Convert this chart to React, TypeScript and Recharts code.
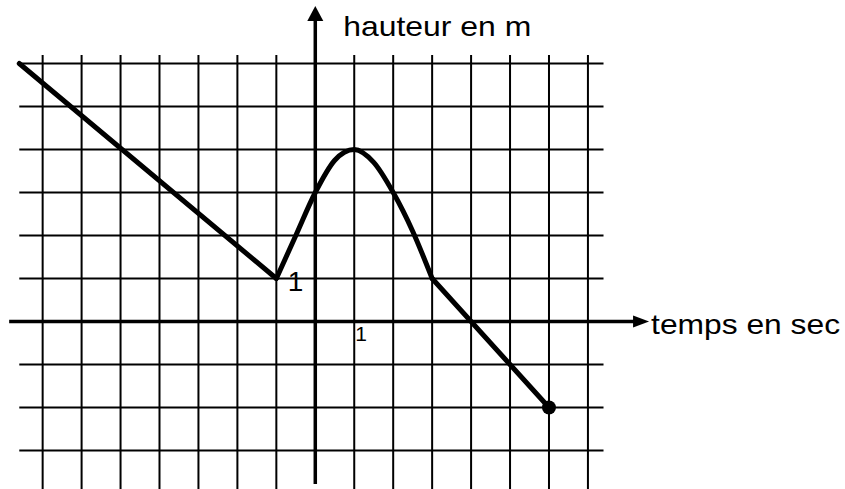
import React from 'react';
import { LineChart, Line, XAxis, YAxis, ReferenceLine, ReferenceDot } from 'recharts';

// grid rules (one per unit) and how far they reach
const GRID_X = [-7, -6, -5, -4, -3, -2, -1, 1, 2, 3, 4, 5, 6, 7];
const GRID_Y = [-3, -2, -1, 1, 2, 3, 4, 5, 6];
const GRID_X_SPAN = [-7.6, 7.4];
const GRID_Y_SPAN = [-3.9, 6.2];

// axes extent (arrow tips at the end)
const AXIS_X_SPAN = [-7.86, 8.57];
const AXIS_Y_SPAN = [-3.78, 7.34];

// the height curve, in three pieces
const LEFT_T = [-7.6, -1];
const LEFT_H = [6, 1];
const CURVE_T = [-1, -0.5, 0, 0.5, 1, 1.5, 2, 2.5, 3];
const CURVE_H = [1, 2, 3, 3.75, 4, 3.7, 3, 2.1, 1];
const RIGHT_T = [3, 6];
const RIGHT_H = [1, -2];

// unit tick labels
const X_TICK = 1;
const Y_TICK = 1;

const X_LABEL = 'temps en sec';
const Y_LABEL = 'hauteur en m';

const FONT = '"Liberation Sans", Arial, sans-serif';

const toPoints = (xs: number[], ys: number[]) => xs.map((x, i) => ({ x, y: ys[i] }));

const leftData = toPoints(LEFT_T, LEFT_H);
const curveData = toPoints(CURVE_T, CURVE_H);
const rightData = toPoints(RIGHT_T, RIGHT_H);

const noDot = (p: any) => <g key={`n${p.index}`} />;

const XArrow = (props: any) => {
    const { x1, y1, x2, y2 } = props;
    return (
        <g>
            <line x1={x1} y1={y1} x2={x2 - 12} y2={y2} stroke="#000" strokeWidth={3.5} />
            <polygon points={`${x2},${y2} ${x2 - 16},${y2 - 6} ${x2 - 16},${y2 + 6}`} fill="#000" />
            <text x={x2 + 2} y={y2 + 12} fontFamily={FONT} fontSize={28} textLength={189} lengthAdjust="spacingAndGlyphs" fill="#000">
                {X_LABEL}
            </text>
        </g>
    );
};

const YArrow = (props: any) => {
    const { x1, y1, x2, y2 } = props;
    const top = Math.min(y1, y2);
    const bottom = Math.max(y1, y2);
    return (
        <g>
            <line x1={x1} y1={bottom} x2={x2} y2={top + 12} stroke="#000" strokeWidth={3.5} />
            <polygon points={`${x1},${top} ${x1 - 8},${top + 15} ${x1 + 8},${top + 15}`} fill="#000" />
            <text x={x1 + 28} y={top + 30} fontFamily={FONT} fontSize={28} textLength={188} lengthAdjust="spacingAndGlyphs" fill="#000">
                {Y_LABEL}
            </text>
        </g>
    );
};

export default function App() {
    return (
        <div style={{ position: 'absolute', left: 0, top: 0, width: 845, height: 489, background: '#fff' }}>
            <LineChart width={845} height={489} margin={{ top: 0, right: 0, bottom: 0, left: 0 }}>
                <XAxis type="number" dataKey="x" domain={[-8.095, 13.6]} hide allowDataOverflow />
                <YAxis type="number" dataKey="y" domain={[-3.895, 7.477]} hide allowDataOverflow />

                {GRID_X.map(v => (
                    <ReferenceLine
                        key={`gx${v}`}
                        segment={[{ x: v, y: GRID_Y_SPAN[0] }, { x: v, y: GRID_Y_SPAN[1] }]}
                        stroke="#000"
                        strokeWidth={2}
                        ifOverflow="visible"
                    />
                ))}
                {GRID_Y.map(v => (
                    <ReferenceLine
                        key={`gy${v}`}
                        segment={[{ x: GRID_X_SPAN[0], y: v }, { x: GRID_X_SPAN[1], y: v }]}
                        stroke="#000"
                        strokeWidth={2}
                        ifOverflow="visible"
                    />
                ))}

                <ReferenceLine
                    segment={[{ x: AXIS_X_SPAN[0], y: 0 }, { x: AXIS_X_SPAN[1], y: 0 }]}
                    shape={XArrow}
                    ifOverflow="visible"
                />
                <ReferenceLine
                    segment={[{ x: 0, y: AXIS_Y_SPAN[0] }, { x: 0, y: AXIS_Y_SPAN[1] }]}
                    shape={YArrow}
                    ifOverflow="visible"
                />

                <ReferenceDot
                    x={0}
                    y={Y_TICK}
                    r={0}
                    shape={(p: any) => (
                        <text x={p.cx - 12} y={p.cy + 12} textAnchor="end" fontFamily={FONT} fontSize={28} fill="#000">
                            {Y_TICK}
                        </text>
                    )}
                />
                <ReferenceDot
                    x={X_TICK}
                    y={0}
                    r={0}
                    shape={(p: any) => (
                        <text x={p.cx + 1} y={p.cy + 19} fontFamily={FONT} fontSize={21} fill="#000">
                            {X_TICK}
                        </text>
                    )}
                />

                <Line
                    data={leftData}
                    dataKey="y"
                    type="linear"
                    stroke="#000"
                    strokeWidth={5}
                    strokeLinecap="round"
                    dot={noDot}
                    activeDot={false}
                    isAnimationActive={false}
                />
                <Line
                    data={curveData}
                    dataKey="y"
                    type="monotone"
                    stroke="#000"
                    strokeWidth={5}
                    strokeLinecap="round"
                    dot={noDot}
                    activeDot={false}
                    isAnimationActive={false}
                />
                <Line
                    data={rightData}
                    dataKey="y"
                    type="linear"
                    stroke="#000"
                    strokeWidth={5}
                    strokeLinecap="round"
                    activeDot={false}
                    dot={(p: any) =>
                        p.index === rightData.length - 1
                            ? <circle key={`d${p.index}`} cx={p.cx} cy={p.cy} r={7} fill="#000" />
                            : <g key={`d${p.index}`} />
                    }
                    isAnimationActive={false}
                />
            </LineChart>
        </div>
    );
}
